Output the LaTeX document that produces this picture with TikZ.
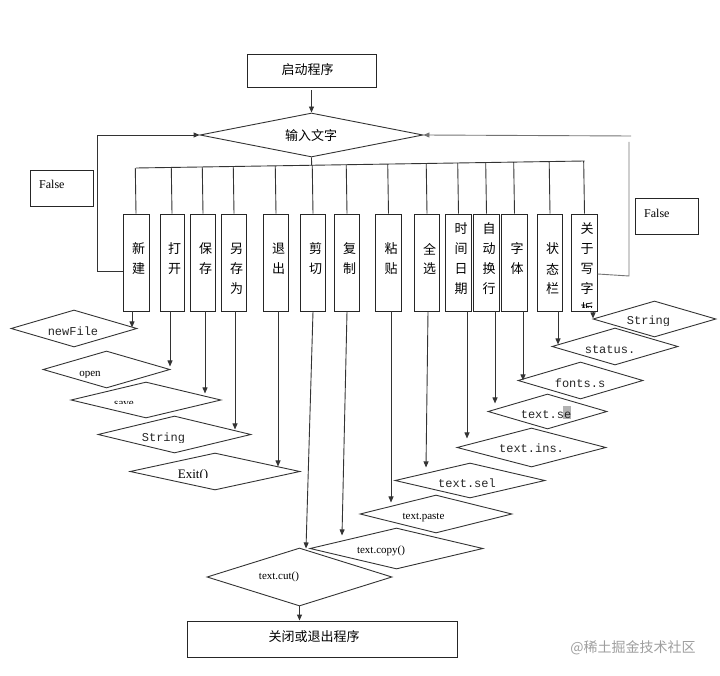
\documentclass[tikz,border=0pt]{standalone}
\usepackage{fontspec}
\setmainfont{Liberation Serif}
\setmonofont{Liberation Mono}
\newfontfamily\cjk{Noto Sans CJK SC}
\usetikzlibrary{shapes.geometric,arrows.meta,calc}
\tikzset{
  ln/.style={draw=black!80, line width=0.9pt},
  lng/.style={draw=black!55, line width=0.9pt},
  arr/.style={ln, -{Triangle[length=6pt,width=5pt]}},
  arrg/.style={lng, -{Triangle[length=6pt,width=5pt]}},
  rbox/.style={rectangle, draw=black!85, line width=0.9pt, inner sep=0pt},
  ibox/.style={rbox, minimum width=25.5pt, minimum height=97pt},
  dia/.style={diamond, draw=black!80, line width=0.9pt, inner sep=0pt},
  cjkt/.style={font=\cjk\fontsize{13}{13}\selectfont, inner sep=0pt},
  vch/.style={cjkt},
  mono/.style={font=\ttfamily\fontsize{12}{12}\selectfont, inner sep=0pt, anchor=base, text=black!85},
  serif/.style={font=\rmfamily\fontsize{11}{11}\selectfont, inner sep=0pt, anchor=base},
  ftxt/.style={font=\rmfamily\fontsize{12}{12}\selectfont, inner sep=0pt, anchor=west},
}
\newcommand\vtxt[4]{\foreach \vc [count=\i] in {#4} {\node[vch] (#1-\i) at ({#2+2.5},{#3+20*(\i-1)}) {\vc};}}
\begin{document}
\begin{tikzpicture}[x=1pt,y=-1pt]
\useasboundingbox (0,0) rectangle (720,676);

% top
\node[rbox, minimum width=129pt, minimum height=33pt] (start) at (311.5,70.5) {};
\node[cjkt] (startt) at (307.5,70) {启动程序};
\node[dia, minimum width=223pt, minimum height=44pt] (inp) at (311.5,135) {};
\node[cjkt] (inpt) at (311,136) {输入文字};
\draw[arr] ([yshift=-3pt]start.south) -- (inp.north);

% item boxes
\node[ibox, minimum width=26pt] (b1) at (136,262.5) {};
\node[ibox, minimum width=24pt] (b2) at (172,262.5) {};
\node[ibox] (b3) at (203,262.5) {};
\node[ibox] (b4) at (234,262.5) {};
\node[ibox] (b5) at (276,262.5) {};
\node[ibox] (b6) at (313,262.5) {};
\node[ibox] (b7) at (347,262.5) {};
\node[ibox] (b8) at (388.5,262.5) {};
\node[ibox] (b9) at (427,262.5) {};
\node[ibox] (b10) at (458.5,262.5) {};
\node[ibox] (b11) at (486.5,262.5) {};
\node[ibox] (b12) at (514.5,262.5) {};
\node[ibox] (b13) at (550,262.5) {};
\node[ibox] (b14) at (584.5,262.5) {};

\vtxt{t1}{136}{249}{新,建}
\vtxt{t2}{172}{249}{打,开}
\vtxt{t3}{203}{249}{保,存}
\vtxt{t4}{234}{249}{另,存,为}
\vtxt{t5}{276}{249}{退,出}
\vtxt{t6}{313}{249}{剪,切}
\vtxt{t7}{347}{249}{复,制}
\vtxt{t8}{388.5}{249}{粘,贴}
\vtxt{t9}{427}{249}{全,选}
\vtxt{t10}{458.5}{229}{时,间,日,期}
\vtxt{t11}{486.5}{229}{自,动,换,行}
\vtxt{t12}{514.5}{249}{字,体}
\vtxt{t13}{550}{249}{状,态,栏}
\begin{scope}
\clip (572,214) rectangle (597,308);
\vtxt{t14}{584.5}{229}{关,于,写,字,板}
\end{scope}

% bus
\coordinate (busL) at (136,168);
\coordinate (busR) at (584.5,161);
\draw[ln] (busL) -- (busR);
\draw[ln] (inp.south) -- ($(busL)!(inp.south)!(busR)$);
\foreach \k in {1,...,14} {\draw[ln] (b\k.north) -- ($(busL)!(b\k.north)!(busR)$);}

% left loop
\draw[arr] ([yshift=-8.5pt]b1.west) -- ++(-25,0) |- (inp.west);
\node[rbox, minimum width=63pt, minimum height=36pt] (fl) at (61.5,188) {};
\node[ftxt] (flt) at (39,184) {False};

% right loop
\coordinate (rA) at (629,276);
\coordinate (rB) at (629,142);
\coordinate (rC) at (631,136);
\draw[lng] ([yshift=-11.5pt]b14.east) -- (rA) -- (rB);
\draw[arrg] (rC) -- (inp.east);
\node[rbox, minimum width=63pt, minimum height=36pt] (fr) at (666.5,216) {};
\node[ftxt] (frt) at (644,213) {False};

% left diamonds
\node[dia, minimum width=126pt, minimum height=37pt] (dNew) at (74,328.5) {};
\node[mono] (tNew) at (73,335) {newFile};
\node[dia, minimum width=127pt, minimum height=37pt] (dOpen) at (106.5,369.5) {};
\begin{scope}
\clip (60,360) rectangle (130,377.5);
\node[serif] (tOpen) at (90,376) {open};
\end{scope}
\node[dia, minimum width=150pt, minimum height=36pt] (dSave) at (146,400) {};
\begin{scope}
\clip (100,390) rectangle (150,403.5);
\node[serif] (tSave) at (124,406) {save};
\end{scope}
\node[dia, minimum width=153pt, minimum height=37pt] (dStr) at (174.5,434.5) {};
\begin{scope}
\clip (130,425) rectangle (200,442);
\node[mono] (tStr) at (163.5,441) {String};
\end{scope}
\node[dia, minimum width=170pt, minimum height=37pt] (dExit) at (215,471.5) {};
\begin{scope}
\clip (160,460) rectangle (230,477.5);
\node[font=\rmfamily\fontsize{13}{13}\selectfont, inner sep=0pt, anchor=base] (tExit) at (193,478.5) {Exit()};
\end{scope}

% right diamonds
\node[dia, minimum width=123pt, minimum height=36pt] (dStrR) at (654.5,319) {};
\begin{scope}
\clip (615,305) rectangle (690,325);
\node[mono] (tStrR) at (648.5,324.5) {String};
\end{scope}
\node[dia, minimum width=126pt, minimum height=37pt] (dStatus) at (615,346.5) {};
\node[mono] (tStatus) at (610,353.5) {status.};
\node[dia, minimum width=125pt, minimum height=37pt] (dFonts) at (580.5,380.5) {};
\node[mono] (tFonts) at (580,387) {fonts.s};
\node[dia, minimum width=119pt, minimum height=35pt] (dSe) at (547.5,411.5) {};
\fill[black!30] (563,406) rectangle (571,418.5);
\node[mono] (tSe) at (546,418) {text.se};
\node[dia, minimum width=149pt, minimum height=39pt] (dIns) at (531.5,447.5) {};
\node[mono] (tIns) at (531.5,452.5) {text.ins.};
\node[dia, minimum width=150pt, minimum height=35pt] (dSel) at (470,480.5) {};
\node[mono] (tSel) at (467,487.5) {text.sel};
\node[dia, minimum width=152pt, minimum height=38pt] (dPaste) at (436,514) {};
\node[serif] (tPaste) at (423.5,519) {text.paste};
\node[dia, minimum width=173pt, minimum height=41pt] (dCopy) at (396.5,548.5) {};
\node[serif] (tCopy) at (381,553.5) {text.copy()};
\node[dia, minimum width=185pt, minimum height=58pt] (dCut) at (299.5,577) {};
\node[serif] (tCut) at (279,579) {text.cut()};

% end
\node[rbox, minimum width=270pt, minimum height=36pt] (endb) at (322,639) {};
\node[cjkt] (endt) at (314,636.5) {关闭或退出程序};
\draw[arr] (dCut.south) -- (dCut.south |- endb.north);

% arrows from boxes
\draw[arr] ([xshift=-4pt]b1.south) -- ++(0,16);
\draw[arr] ([xshift=-2pt]b2.south) -- ++(0,55);
\draw[arr] ([xshift=2pt]b3.south) -- ++(0,82);
\draw[arr] ([xshift=1pt]b4.south) -- ++(0,118);
\draw[arr] ([xshift=2pt]b5.south) -- ++(0,155);
\draw[arr] (b6.south) -- ++(-7,237);
\draw[arr] (b7.south) -- ++(-5,224);
\draw[arr] ([xshift=2.5pt]b8.south) -- ++(0,191);
\draw[arr] ([xshift=1pt]b9.south) -- ++(-2,156);
\draw[arr] ([xshift=8.5pt]b10.south) -- ++(0,127);
\draw[arr] ([xshift=8.5pt]b11.south) -- ++(0,92);
\draw[arr] ([xshift=8.5pt]b12.south) -- ++(0,69);
\draw[arr] ([xshift=8pt]b13.south) -- ++(0,33);
\draw[arr] ([xshift=8.5pt]b14.south) -- ++(0,7);

% watermark
\node[font=\cjk\fontsize{14}{14}\selectfont, text=black!38, inner sep=0pt] (wm) at (633,648) {@稀土掘金技术社区};
\end{tikzpicture}
\end{document}
